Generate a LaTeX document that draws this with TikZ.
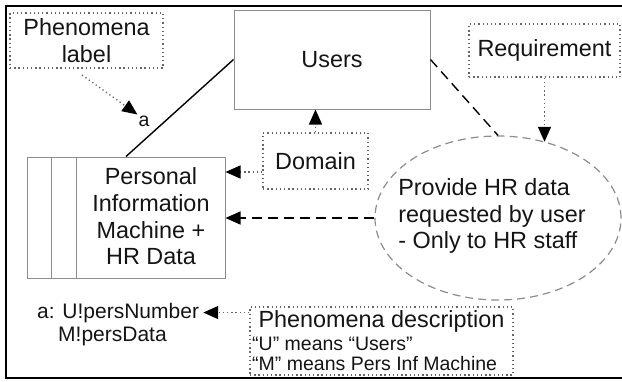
\documentclass[tikz,border=0pt]{standalone}
\usepackage{fontspec}
\setmainfont{Liberation Sans}
\usetikzlibrary{arrows.meta,shapes.geometric}
\definecolor{boxline}{gray}{0.55}
\definecolor{dotline}{gray}{0.4}
\definecolor{txt}{gray}{0.08}
\newcommand{\bigtxt}{\fontsize{23.4}{26.7}\selectfont}
\newcommand{\midtxt}{\fontsize{21}{23}\selectfont}
\newcommand{\smalltxt}{\fontsize{19.5}{20}\selectfont}
\tikzset{
  every node/.style={text=txt, font=\bigtxt, inner sep=0pt},
  solidbox/.style={rectangle, draw=boxline, line width=1pt},
  dotbox/.style={rectangle, draw=dotline, line width=1.3pt, dash pattern=on 1.3pt off 2.9pt},
  dotarrow/.style={draw=dotline, line width=1.3pt, dash pattern=on 1.3pt off 2.9pt,
    -{Triangle[length=15pt,width=13pt,color=black]}},
  dasharrow/.style={line width=1.4pt, dash pattern=on 10pt off 6pt,
    -{Triangle[length=15pt,width=13pt]}},
  reqshape/.style={ellipse, draw=boxline, line width=1.2pt, dash pattern=on 8pt off 5pt,
    minimum width=246pt, minimum height=164pt}
}

\begin{document}
\begin{tikzpicture}[x=1pt,y=-1pt]
  \useasboundingbox (0,0) rectangle (622,381);
  % frame
  \draw[line width=2pt] (640,6) -- (6,6) -- (6,378) -- (640,378);

  \node (plabel) [dotbox, minimum width=153pt, minimum height=55pt, align=center] at (86.5,40.5) {Phenomena\\label};
  \node (users) [solidbox, minimum width=196pt, minimum height=99pt] at (332,59.5) {Users};
  \node (req) [dotbox, minimum width=151pt, minimum height=53pt] at (544.5,50.5) {Requirement};
  \node (domain) [dotbox, minimum width=105pt, minimum height=56pt] at (315.5,161) {Domain};

  % machine with its two side stripes
  \node (pim) [solidbox, minimum width=198pt, minimum height=121pt] at (126,217.5) {};
  \draw[boxline, line width=1pt] ([xshift=25pt]pim.north west) -- ([xshift=25pt]pim.south west);
  \draw[boxline, line width=1pt] ([xshift=50pt]pim.north west) -- ([xshift=50pt]pim.south west);
  \node (pimtxt) [align=center] at (151,216.5) {Personal\\Information\\Machine +\\HR Data};

  \node (ell) [reqshape] at (498,218) {};
  \node (elltxt) [align=left] at (492,216) {Provide HR data\\requested by user\\- Only to HR staff};

  \node (pdesc) [dotbox, minimum width=263pt, minimum height=68pt] at (381.5,341) {};
  \node (pdtitle) [anchor=base] at (381.5,327) {Phenomena description};
  \node (pdu) [anchor=base west, font=\smalltxt] at (252,350) {“U” means “Users”};
  \node (pdm) [anchor=base west, font=\smalltxt] at (252,370) {“M” means Pers Inf Machine};

  \node (ann) [anchor=base west, font=\midtxt, inner sep=4pt] at (33,318) {a: U!persNumber};
  \node (ann2) [anchor=base west, font=\midtxt] at (58,341) {M!persData};

  \node (alabel) [font=\smalltxt, inner sep=1pt] at (144,121) {a};
  \coordinate (plout) at (82,75);

  % connectors
  \draw[line width=1.4pt] (pim.north) -- (users.west);
  \draw[line width=1.4pt, dash pattern=on 10pt off 6pt] (users.east) -- (ell.north);
  \draw[dotarrow] (plout) -- (alabel.north west);
  \draw[dotarrow] (req.south) -- (req.south |- ell.58);
  \draw[dotarrow] (domain.north) -- (domain.north |- users.south);
  \draw[dotarrow] ([yshift=-11pt]domain.west) -- ([yshift=-11pt]domain.west -| pim.east);
  \draw[dasharrow] (ell.west) -- (ell.west -| pim.east);
  \draw[dotarrow] (pdesc.west |- ann.east) -- (ann.east);
\end{tikzpicture}
\end{document}
